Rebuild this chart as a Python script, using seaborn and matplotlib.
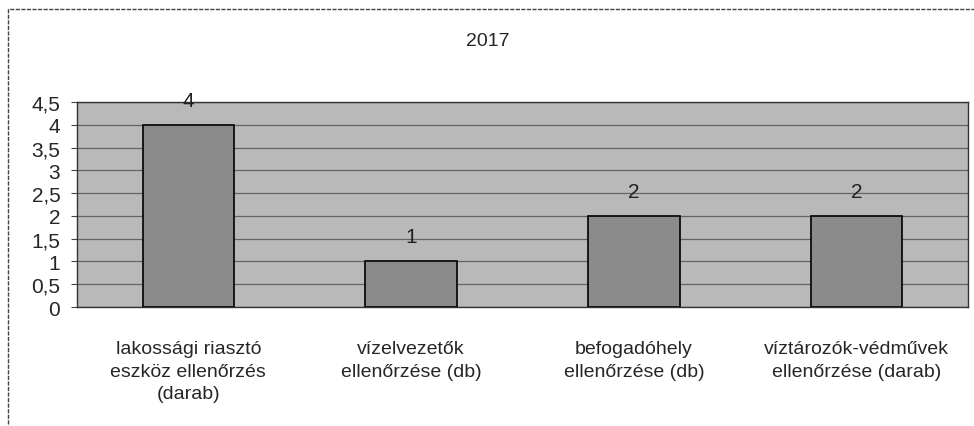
import matplotlib
matplotlib.use("Agg")
import matplotlib.pyplot as plt
import seaborn as sns
import pandas as pd

# adatok a képről
kategoriak = [
    "lakossági riasztó\neszköz ellenőrzés\n(darab)",
    "vízelvezetők\nellenőrzése (db)",
    "befogadóhely\nellenőrzése (db)",
    "víztározók-védművek\nellenőrzése (darab)",
]
ertekek = [4, 1, 2, 2]
y_tickek = [0, 0.5, 1, 1.5, 2, 2.5, 3, 3.5, 4, 4.5]
y_cimkek = ["0", "0,5", "1", "1,5", "2", "2,5", "3", "3,5", "4", "4,5"]
cim = "2017"

df = pd.DataFrame({"kategoria": kategoriak, "ertek": ertekek})

sns.set_style("white")
plt.rcParams["font.family"] = ["Liberation Sans", "DejaVu Sans"]

fig = plt.figure(figsize=(9.74, 4.27), dpi=100)
ax = fig.add_axes([77 / 974, 1 - 308 / 427, (968 - 77) / 974, (308 - 103) / 427])
ax.set_facecolor("#b9b9b9")

sns.barplot(data=df, x="kategoria", y="ertek", ax=ax, color="#8b8b8b",
            width=0.41, edgecolor="black", linewidth=1.2, saturation=1, zorder=3)

ax.set_ylim(0, 4.5)
ax.set_xlim(-0.5, 3.5)
ax.set_yticks(y_tickek)
ax.set_yticklabels(y_cimkek, fontsize=15)
ax.yaxis.grid(True, color="#646464", linewidth=0.9, zorder=1)
ax.set_axisbelow(True)
ax.tick_params(axis="y", length=4, width=0.8, pad=8, left=True, color="#444444")
ax.tick_params(axis="x", length=0, labelsize=14, pad=24)
ax.set_xticks(range(len(kategoriak)))
ax.set_xticklabels(kategoriak, linespacing=1.4)
ax.set_xticks([0.5, 1.5, 2.5], minor=True)
ax.tick_params(axis="x", which="minor", length=4, width=0.8, color="#444444")
ax.set_xlabel("")
ax.set_ylabel("")
for s in ax.spines.values():
    s.set_color("#333333")
    s.set_linewidth(1.0)

for i, v in enumerate(ertekek):
    ax.text(i, v + 0.33, str(v), ha="center", va="bottom", fontsize=15, color="#222222")

fig.text(488 / 974, 1 - 42 / 427, cim, ha="center", va="center", fontsize=14)

# külső keret
keret = plt.Rectangle((8 / 974, -0.05), 1.2, 1 - 10 / 427 + 0.05, transform=fig.transFigure,
                      fill=False, edgecolor="#444444", linewidth=1.0, linestyle=(0, (3, 1)))
fig.patches.append(keret)

fig.savefig("out.png", dpi=100)
